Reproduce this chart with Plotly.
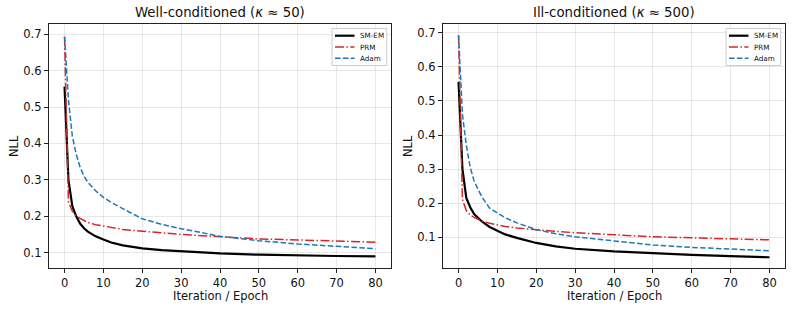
import plotly.graph_objects as go

# ---- data ----
x_pts = [0, 0.5, 1, 2, 3, 4, 5, 6, 8, 10, 12, 15, 20, 25, 30, 40, 50, 60, 70, 80]

# Well-conditioned (kappa ~ 50)
well_smem = [0.556, 0.42, 0.300, 0.228, 0.200, 0.180, 0.167, 0.158, 0.145, 0.136, 0.128, 0.120, 0.112, 0.107, 0.104, 0.098, 0.0945, 0.092, 0.091, 0.090]
well_prm  = [0.693, 0.42, 0.240, 0.214, 0.202, 0.194, 0.188, 0.183, 0.177, 0.173, 0.169, 0.164, 0.159, 0.154, 0.150, 0.144, 0.138, 0.135, 0.132, 0.129]
well_adam = [0.693, 0.60, 0.520, 0.420, 0.370, 0.335, 0.310, 0.293, 0.270, 0.252, 0.238, 0.221, 0.193, 0.178, 0.166, 0.145, 0.133, 0.124, 0.117, 0.111]

# Ill-conditioned (kappa ~ 500)
ill_smem = [0.556, 0.42, 0.300, 0.215, 0.188, 0.168, 0.157, 0.146, 0.130, 0.118, 0.108, 0.098, 0.083, 0.073, 0.066, 0.058, 0.052, 0.048, 0.044, 0.041]
ill_prm  = [0.693, 0.40, 0.210, 0.178, 0.165, 0.158, 0.152, 0.147, 0.141, 0.135, 0.131, 0.127, 0.121, 0.117, 0.113, 0.106, 0.101, 0.098, 0.096, 0.092]
ill_adam = [0.693, 0.56, 0.460, 0.370, 0.305, 0.265, 0.240, 0.218, 0.185, 0.170, 0.157, 0.142, 0.122, 0.110, 0.101, 0.089, 0.077, 0.070, 0.064, 0.060]

series_names = ["SM-EM", "PRM", "Adam"]
titles = ["Well-conditioned (<i>κ</i> ≈ 50)", "Ill-conditioned (<i>κ</i> ≈ 500)"]
x_label = "Iteration / Epoch"
y_label = "NLL"
x_ticks = [0, 10, 20, 30, 40, 50, 60, 70, 80]
y_ticks = [0.1, 0.2, 0.3, 0.4, 0.5, 0.6, 0.7]

colors = ["#000000", "#d62728", "#1f77b4"]
widths = [2.2, 1.5, 1.5]
dashes = ["solid", "9px,2.4px,1.5px,2.4px", "5.5px,2.4px"]

W, H = 793, 310
ml, mr, mt, mb = 49, 8, 24, 42
pw = W - ml - mr
ph = H - mt - mb
# axes pixel extents
ax_px = [(49, 391), (443, 785)]
doms = [[(a - ml) / pw, (b - ml) / pw] for a, b in ax_px]


def px_x(p):
    return (p - ml) / pw


def px_y(p):
    return (H - mb - p) / ph


fig = go.Figure()
panels = [
    ([well_smem, well_prm, well_adam], "x", "y"),
    ([ill_smem, ill_prm, ill_adam], "x2", "y2"),
]
for data, xa, ya in panels:
    for name, vals, c, w, d in zip(series_names, data, colors, widths, dashes):
        fig.add_trace(go.Scatter(
            x=x_pts, y=vals, mode="lines", name=name,
            line=dict(color=c, width=w, dash=d),
            xaxis=xa, yaxis=ya, showlegend=False, hoverinfo="skip",
        ))

font = "DejaVu Sans"
axis_common = dict(
    showline=True, linecolor="#222222", linewidth=1.2, mirror=True,
    ticks="outside", ticklen=4, tickwidth=1, tickcolor="#222222",
    showgrid=True, gridcolor="rgba(0,0,0,0.09)", gridwidth=1,
    zeroline=False, automargin=False,
    tickfont=dict(family=font, size=11.5, color="#111111"),
)
fig.update_layout(
    width=W, height=H,
    margin=dict(l=ml, r=mr, t=mt, b=mb, autoexpand=False),
    plot_bgcolor="white", paper_bgcolor="white",
    font=dict(family=font, color="#111111"),
    showlegend=False,
    xaxis=dict(domain=doms[0], range=[-4, 84], tickvals=x_ticks, anchor="y", **axis_common),
    yaxis=dict(domain=[0, 1], range=[0.058, 0.728], tickvals=y_ticks, tickformat=".1f", anchor="x", **axis_common),
    xaxis2=dict(domain=doms[1], range=[-4, 84], tickvals=x_ticks, anchor="y2", **axis_common),
    yaxis2=dict(domain=[0, 1], range=[0.0094, 0.726], tickvals=y_ticks, tickformat=".1f", anchor="x2", **axis_common),
)

shapes = []
annos = []
for (a, b), t in zip(ax_px, titles):
    cx = (a + b) / 2
    # title
    annos.append(dict(text=t, x=px_x(cx), y=px_y(13), xref="paper", yref="paper",
                      xanchor="center", yanchor="middle", showarrow=False,
                      font=dict(family=font, size=13.3, color="#111111")))
    # axis labels
    annos.append(dict(text=x_label, x=px_x(cx), y=px_y(296), xref="paper", yref="paper",
                      xanchor="center", yanchor="middle", showarrow=False,
                      font=dict(family=font, size=11.5, color="#111111")))
    annos.append(dict(text=y_label, x=px_x(a - 35), y=px_y(146), xref="paper", yref="paper",
                      xanchor="center", yanchor="middle", showarrow=False, textangle=-90,
                      font=dict(family=font, size=11.5, color="#111111")))
    # legend (drawn manually to match the compact legend box)
    R = b
    shapes.append(dict(type="rect", xref="paper", yref="paper",
                       x0=px_x(R - 59), x1=px_x(R - 4.3), y0=px_y(28.5), y1=px_y(65.5),
                       fillcolor="rgba(255,255,255,0.9)", line=dict(color="#cccccc", width=1),
                       layer="above"))
    for i, (name, c, w, d) in enumerate(zip(series_names, colors, widths, dashes)):
        yy = px_y(35.7 + i * 11.3)
        shapes.append(dict(type="line", xref="paper", yref="paper",
                           x0=px_x(R - 56), x1=px_x(R - 36.5), y0=yy, y1=yy,
                           line=dict(color=c, width=w, dash=d), layer="above"))
        annos.append(dict(text=name, x=px_x(R - 33), y=yy, xref="paper", yref="paper",
                          xanchor="left", yanchor="middle", showarrow=False,
                          font=dict(family=font, size=7.2, color="#111111")))

fig.update_layout(shapes=shapes, annotations=annos)
fig.write_html("out.html", config={"displayModeBar": False},
               post_script="document.body.style.margin='0';document.body.style.padding='0';")
